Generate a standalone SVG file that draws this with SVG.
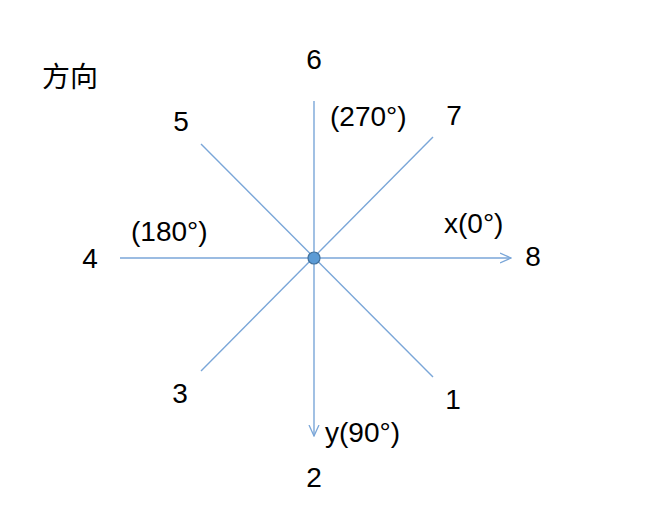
<svg xmlns="http://www.w3.org/2000/svg" width="648" height="531" viewBox="0 0 648 531">
<style>
.ln{stroke:#7aa6d8;stroke-width:1.4;fill:none}
text{font-family:"Liberation Sans","Noto Sans CJK SC",sans-serif;font-size:28px;fill:#000}
.c{text-anchor:middle}
</style>
<defs>
<marker id="arr" viewBox="0 0 12 12" refX="11" refY="6" markerWidth="12" markerHeight="12" markerUnits="userSpaceOnUse" orient="auto">
<path d="M0,1 L11,6 L0,11" fill="none" stroke="#7aa6d8" stroke-width="1.3"/>
</marker>
</defs>
<rect width="648" height="531" fill="#fff"/>
<g id="connectors">
<line class="ln" x1="314" y1="101" x2="314" y2="436" marker-end="url(#arr)"/>
<line class="ln" x1="120" y1="258" x2="511" y2="258" marker-end="url(#arr)"/>
<line class="ln" x1="201" y1="144" x2="433" y2="377"/>
<line class="ln" x1="433" y1="137" x2="201" y2="371"/>
</g>
<g id="center"><circle cx="314" cy="258" r="6" fill="#5b9bd5" stroke="#41719c" stroke-width="1.2"/></g>
<g id="title"><text x="42" y="87">方向</text></g>
<g id="n6"><text class="c" x="314" y="69">6</text></g>
<g id="n5"><text class="c" x="181" y="131">5</text></g>
<g id="l270"><text x="330" y="126">(270°)</text></g>
<g id="n7"><text class="c" x="454" y="125">7</text></g>
<g id="l180"><text x="131" y="241">(180°)</text></g>
<g id="n4"><text class="c" x="90" y="268">4</text></g>
<g id="lx"><text x="444" y="233">x(0°)</text></g>
<g id="n8"><text class="c" x="533" y="266">8</text></g>
<g id="n3"><text class="c" x="180" y="403">3</text></g>
<g id="n1"><text class="c" x="453" y="409">1</text></g>
<g id="ly"><text x="325" y="442">y(90°)</text></g>
<g id="n2"><text class="c" x="314" y="487">2</text></g>
</svg>
